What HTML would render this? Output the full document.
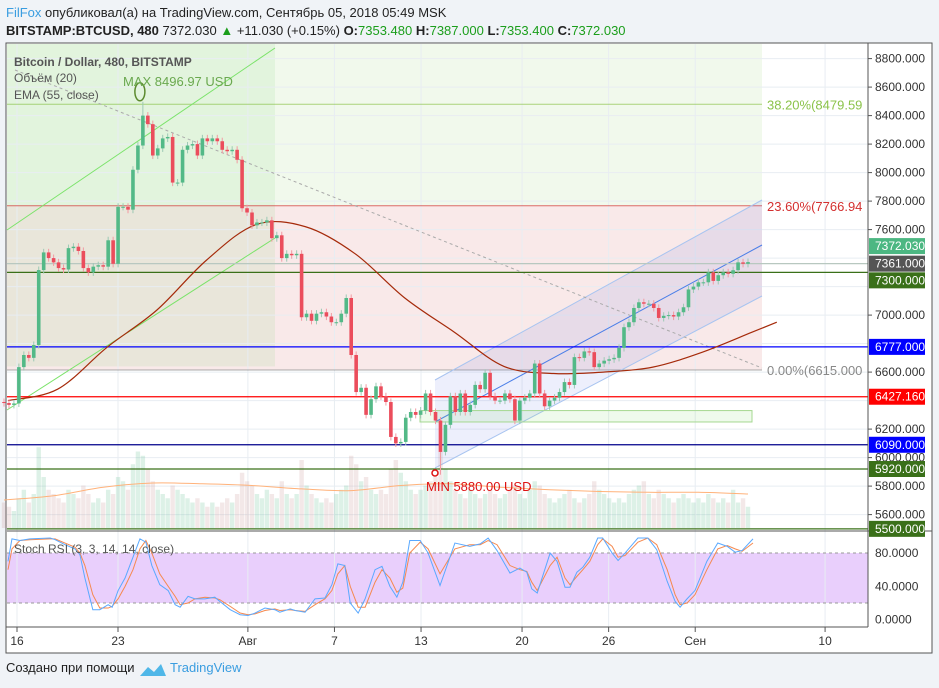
<!DOCTYPE html>
<html><head><meta charset="utf-8"><style>
body{margin:0;background:#f0f3f7;font-family:"Liberation Sans","DejaVu Sans",sans-serif;}
svg{display:block}
text{font-family:"Liberation Sans","DejaVu Sans",sans-serif}
</style></head><body>
<svg id="c" width="939" height="688" xmlns="http://www.w3.org/2000/svg">
<rect x="0" y="0" width="939" height="688" fill="#f0f3f7"/>
<text x="6" y="17" font-size="13"><tspan fill="#3a9de0">FilFox</tspan><tspan fill="#222"> опубликовал(а) на TradingView.com, Сентябрь 05, 2018 05:49 MSK</tspan></text>
<text x="6" y="35" font-size="13" fill="#222"><tspan font-weight="bold">BITSTAMP:BTCUSD, 480</tspan> 7372.030 <tspan fill="#1b9e1b">▲</tspan> +11.030 (+0.15%) <tspan font-weight="bold">O:</tspan><tspan fill="#1b9e1b">7353.480</tspan> <tspan font-weight="bold">H:</tspan><tspan fill="#1b9e1b">7387.000</tspan> <tspan font-weight="bold">L:</tspan><tspan fill="#1b9e1b">7353.400</tspan> <tspan font-weight="bold">C:</tspan><tspan fill="#1b9e1b">7372.030</tspan></text>
<rect x="6" y="43" width="926" height="610" fill="#fff" stroke="#555" stroke-width="1"/>
<g id="bg"></g>
<g id="grid"></g>
<g id="zones"></g>
<g id="vol"></g>
<g id="lines"></g>
<g id="candles"></g>
<g id="stoch"></g>
<g id="axes"></g>
<text x="14" y="66" font-size="12" fill="#555" font-weight="bold">Bitcoin / Dollar, 480, BITSTAMP</text>
<text x="14" y="82" font-size="12" fill="#555">Объём (20)</text>
<text x="14" y="99" font-size="12" fill="#555">EMA (55, close)</text>
<text x="123" y="86" font-size="13" fill="#6aa84f">MAX 8496.97 USD</text>
<text x="426" y="491" font-size="13" fill="#d11">MIN 5880.00 USD</text>
<text x="6" y="672" font-size="13" fill="#222">Создано при помощи</text>
<g><path d="M140 676 l8-9 6 5 7-8 5 12z" fill="#4fb7e8"/></g>
<text x="170" y="672" font-size="13" fill="#3a9de0">TradingView</text>
</svg>
<script>
const closes=[6383,6370,6380,6635,6720,6700,6790,7316,7440,7400,7370,7330,7320,7470,7480,7450,7330,7300,7340,7350,7340,7525,7360,7760,7760,7740,8020,8190,8400,8340,8120,8170,8240,8250,7930,7930,8160,8190,8200,8120,8240,8220,8240,8220,8160,8150,8160,8090,7750,7720,7630,7650,7650,7665,7540,7560,7400,7430,7420,7430,6985,7010,6960,7010,7020,6990,6950,6950,7010,7120,6720,6460,6490,6300,6410,6500,6430,6390,6145,6100,6110,6280,6320,6300,6330,6450,6320,6260,6040,6230,6430,6320,6450,6320,6370,6510,6480,6595,6430,6400,6400,6450,6410,6260,6400,6420,6450,6660,6450,6360,6400,6420,6460,6530,6510,6705,6700,6745,6740,6635,6660,6680,6690,6700,6770,6915,6950,7050,7090,7080,7080,7050,6980,6995,7000,6990,7020,7055,7180,7200,7230,7230,7300,7240,7280,7300,7290,7315,7370,7360,7372];
const firstOpen=6390;
const extremeBars=[28,88];
const extremeVals=[8496.97,5880];
const volumes=[30,25,20,35,45,30,40,95,60,45,40,35,30,45,40,35,50,40,30,35,30,45,40,60,55,45,75,90,85,70,55,45,40,35,50,45,40,35,30,35,30,25,30,25,30,35,30,40,65,55,50,40,35,45,40,35,55,40,35,40,80,50,40,35,30,35,30,40,45,50,85,75,55,60,45,40,45,40,70,80,65,55,45,40,45,50,55,60,90,70,55,45,40,35,45,40,35,40,45,40,35,40,45,50,40,35,45,55,50,40,35,30,35,40,45,35,30,35,40,55,45,40,35,30,35,30,40,45,50,55,40,35,45,40,35,30,35,40,35,30,35,30,40,35,30,35,30,45,30,35,25];
const volMaT=[0,10,20,30,40,50,60,70,80,90,100,110,120,130,140,150];
const volMa=[33,38,48,53,52,50,46,44,50,52,48,45,43,42,42,40];
const emaT=[0,10,20,30,40,50,60,70,80,90,100,110,120,130,140,150,155];
const emaV=[6400,6480,6775,7035,7385,7635,7620,7430,7120,6880,6640,6590,6600,6635,6740,6880,6950];
const stochT=[0,0.8,2.4,4.4,8.5,9.5,11.5,13.5,14.5,15.5,17.1,18.5,20.2,21,22.2,23.6,25.2,26.6,27.8,29,30.6,32.3,33.7,34.7,36.3,37.7,39.7,41.7,42.7,44.8,46.8,48.4,49.8,51.8,53.8,54.8,56.9,57.9,59.9,61.9,63.9,65.3,66.5,67.9,69,70.6,72,74,75.4,77,78.4,79.6,81,83.1,84.7,87.1,90.1,93.1,95.2,96.8,98.6,101.2,103.2,104.6,105.6,106.7,109.3,110.7,112.3,113.3,114.7,115.9,117.3,118.9,119.9,121.8,123,124.4,127,129,130.8,132.9,134.5,135.5,136.9,138.5,140.9,143.1,145,146.6,148,150.2];
const stochK=[70,97,95,97,98,96,90,85,78,50,12,12,18,15,35,50,75,97,93,65,42,35,18,15,28,25,25,27,22,12,6,5,8,14,12,9,13,11,9,25,26,42,67,65,20,8,25,60,64,40,27,45,95,95,80,41,92,88,91,98,83,56,62,57,37,32,80,70,39,39,57,63,75,98,98,80,71,80,98,98,84,46,22,15,25,35,70,92,88,81,83,97];
const stochD=[60,85,95,96,97,97,92,87,80,65,30,14,14,16,25,40,60,85,95,80,55,40,28,18,20,25,27,26,24,16,8,6,7,11,13,11,12,11,10,18,25,35,55,65,40,15,15,45,60,50,33,38,80,93,85,55,85,90,90,95,90,65,60,58,45,35,65,75,50,42,52,60,70,90,97,88,75,77,93,98,90,60,30,18,20,30,60,85,89,85,82,92];
const priceTicks=[8800,8600,8400,8200,8000,7800,7600,7000,6600,6200,6000,5800,5600];
const dateLabels=["16","23","Авг","7","13","20","26","Сен","10"];
const dateDays=[0,7,16,22,28,35,41,47,56];
const stochTicks=[80,40,0];
const hLevels=[7300,6777,6427.16,6090,5920,5500,7361];
const hColors=["#3a7019","#0000ff","#ff0000","#00008b","#3a7019","#3a7019","#b8c8c0"];
const tagVals=[7372.03,7361,7300,6777,6427.16,6090,5920,5500];
const tagColors=["#4cb782","#555555","#3a7019","#0000ff","#ff0000","#0000ff","#3a7019","#3a7019"];
const fibVals=[8479.59,7766.94,6615];
const fibLabels=["38.20%(8479.59","23.60%(7766.94","0.00%(6615.000"];
const fibColors=["#8bc34a","#d32f2f","#888888"];

const NS="http://www.w3.org/2000/svg";
const PL=7,PR=868,VR=762;
const y=p=>58.6+(8800-p)*0.1425;
const xb=k=>4+k*4.96;
const xt=t=>8+t*4.96;
const xd=d=>17+d*14.43;
const ys=v=>619.7-v*0.8333;
const yv=v=>528-v*0.85;
function mk(parent,tag,attrs){const e=document.createElementNS(NS,tag);for(const k in attrs)e.setAttribute(k,attrs[k]);document.getElementById(parent).appendChild(e);return e;}
function smooth(pts){let d=`M${pts[0][0]},${pts[0][1]}`;for(let i=0;i<pts.length-1;i++){const p0=pts[i-1]||pts[i],p1=pts[i],p2=pts[i+1],p3=pts[i+2]||p2;d+=` C${p1[0]+(p2[0]-p0[0])/6},${p1[1]+(p2[1]-p0[1])/6} ${p2[0]-(p3[0]-p1[0])/6},${p2[1]-(p3[1]-p1[1])/6} ${p2[0]},${p2[1]}`;}return d;}

let e;
e=mk('bg','rect',{x:PL,y:44,width:VR-PL,height:y(fibVals[1])-44,fill:'#f1f9ec'});


e=mk('bg','rect',{x:PL,y:y(fibVals[1]),width:VR-PL,height:y(fibVals[2])-y(fibVals[1]),fill:'#f9e9e9'});


e=mk('bg','rect',{x:PL,y:44,width:268,height:y(6640)-44,fill:'rgba(130,220,120,0.13)'});


e=mk('bg','rect',{x:PL,y:531,width:PR-PL,height:96,fill:'#fff'});


e=mk('bg','rect',{x:PL,y:ys(80),width:PR-PL,height:ys(20)-ys(80),fill:'#e9cffc'});


for(const p of [8800,8600,8400,8200,8000,7800,7600,7400,7200,7000,6800,6600,6400,6200,6000,5800,5600]){e=mk('grid','line',{x1:PL,x2:PR,y1:y(p),y2:y(p),stroke:'#e8edf2'});}
dateDays.forEach(d=>{e=mk('grid','line',{x1:xd(d),x2:xd(d),y1:44,y2:627,stroke:'#e8edf2'});});
for(const v of [80,20]){e=mk('grid','line',{x1:PL,x2:PR,y1:ys(v),y2:ys(v),stroke:'#999','stroke-dasharray':'3,3'});}
fibVals.forEach((v,i)=>{e=mk('zones','line',{x1:PL,x2:VR,y1:y(v),y2:y(v),stroke:fibColors[i],'stroke-opacity':0.7});
e=mk('zones','text',{x:767,y:y(v)+5,'font-size':13,fill:fibColors[i]});e.textContent=fibLabels[i];});
e=mk('zones','polygon',{points:`435,380 ${VR},200 ${VR},296 435,468`,fill:'rgba(110,120,230,0.12)'});


for(const [a,b,c] of [[380,200,'#a8c4f0'],[422,245,'#4a7ee8'],[468,296,'#a8c4f0']]){e=mk('zones','line',{x1:435,y1:a,x2:VR,y2:b,stroke:c});}
e=mk('zones','rect',{x:420,y:y(6330),width:332,height:y(6250)-y(6330),fill:'rgba(150,220,130,0.15)',stroke:'#a5d890'});


for(const [a,b] of [[230,48],[410,238]]){e=mk('zones','line',{x1:PL,y1:a,x2:275,y2:b,stroke:'#7be36a'});}
e=mk('zones','line',{x1:15,y1:70,x2:VR,y2:368,stroke:'#aaa','stroke-dasharray':'3,3'});


volumes.forEach((v,k)=>{const o=k?closes[k-1]:firstOpen,up=closes[k]>=o;e=mk('vol','rect',{x:xb(k)-2.2,y:yv(v),width:4.4,height:528-yv(v),fill:up?'rgba(83,185,135,0.2)':'rgba(200,150,150,0.22)'});});
e=mk('vol','path',{d:smooth(volMaT.map((t,i)=>[xb(t),yv(volMa[i])])),fill:'none',stroke:'#ffb27a'});


hLevels.forEach((v,i)=>{e=mk('lines','line',{x1:PL,x2:PR,y1:y(v),y2:y(v),stroke:hColors[i],'stroke-width':1.2});});
e=mk('lines','path',{d:smooth(emaT.map((t,i)=>[xt(t),y(emaV[i])])),fill:'none',stroke:'#a52a0a','stroke-width':1.2});


closes.forEach((c,k)=>{const o=k?closes[k-1]:firstOpen,up=c>=o,col=up?'#53b987':'#eb4d5c';let hi=Math.max(o,c)+25,lo=Math.min(o,c)-25;const ei=extremeBars.indexOf(k);if(ei>=0){if(extremeVals[ei]>hi)hi=extremeVals[ei];if(extremeVals[ei]<lo)lo=extremeVals[ei];}
e=mk('candles','line',{x1:xb(k),x2:xb(k),y1:y(hi),y2:y(lo),stroke:up?'#9cc9b4':'#f29aa2'});
e=mk('candles','rect',{x:xb(k)-1.8,y:y(Math.max(o,c)),width:3.6,height:Math.max(1,Math.abs(y(o)-y(c))),fill:col});});
e=mk('candles','ellipse',{cx:xb(28)-3,cy:y(8497)-10,rx:5,ry:9,fill:'none',stroke:'#5c8a2e','stroke-width':1.5});


e=mk('candles','circle',{cx:435,cy:473,r:3,fill:'none',stroke:'#d11','stroke-width':1.5});


e=mk('stoch','polyline',{points:stochT.map((t,i)=>xt(t)+','+ys(stochD[i])).join(' '),fill:'none',stroke:'#f5894f','stroke-width':1});


e=mk('stoch','polyline',{points:stochT.map((t,i)=>xt(t)+','+ys(stochK[i])).join(' '),fill:'none',stroke:'#5aa9ff','stroke-width':1});


e=mk('stoch','text',{x:14,y:553,'font-size':12,fill:'#555'});e.textContent='Stoch RSI (3, 3, 14, 14, close)';


for(const [a,b,c,d] of [[PL,531,PR,531],[PR,43,PR,627],[6,627,PR,627]]){e=mk('axes','line',{x1:a,y1:b,x2:c,y2:d,stroke:'#555'});}
e=mk('axes','line',{x1:PR,y1:531,x2:932,y2:531,stroke:'#555'});
priceTicks.forEach(p=>{e=mk('axes','line',{x1:PR,x2:PR+4,y1:y(p),y2:y(p),stroke:'#555'});
e=mk('axes','text',{x:875,y:y(p)+4,'font-size':12,fill:'#333'});e.textContent=p.toFixed(3);});
stochTicks.forEach(v=>{e=mk('axes','text',{x:875,y:ys(v)+4,'font-size':12,fill:'#333'});e.textContent=v.toFixed(4);});
tagVals.forEach((v,i)=>{let yy=y(v);if(i===0)yy-=16;if(i===2)yy+=8;e=mk('axes','rect',{x:869,y:yy-8,width:56,height:16,fill:tagColors[i]});
e=mk('axes','text',{x:875,y:yy+4,'font-size':12,fill:'#fff'});e.textContent=v.toFixed(3);});
dateLabels.forEach((l,i)=>{const x=xd(dateDays[i]);e=mk('axes','line',{x1:x,x2:x,y1:627,y2:632,stroke:'#555'});
e=mk('axes','text',{x:x,y:645,'font-size':12,fill:'#333','text-anchor':'middle'});e.textContent=l;});
</script>
</body></html>
